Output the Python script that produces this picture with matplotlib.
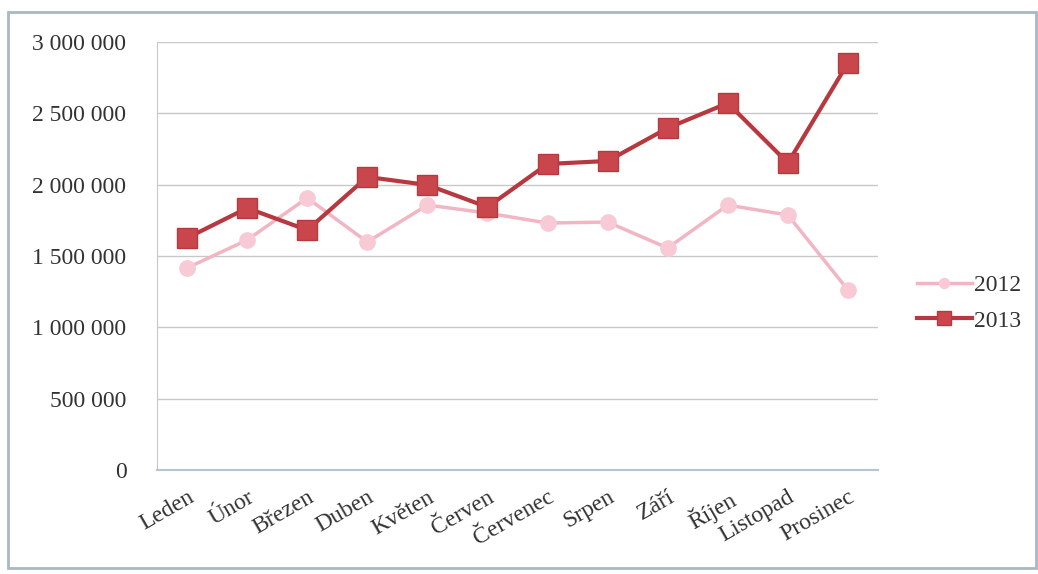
import matplotlib
matplotlib.use("Agg")
import matplotlib.pyplot as plt
from matplotlib.patches import Rectangle
from matplotlib.ticker import FuncFormatter

months = ["Leden", "Únor", "Březen", "Duben", "Květen", "Červen",
          "Červenec", "Srpen", "Září", "Říjen", "Listopad", "Prosinec"]
y2012 = [1416000, 1612000, 1907000, 1598000, 1857000, 1801000,
         1731000, 1738000, 1556000, 1857000, 1787000, 1262000]
y2013 = [1626000, 1836000, 1682000, 2054000, 1998000, 1843000,
         2145000, 2166000, 2397000, 2572000, 2152000, 2853000]
yticks = [0, 500000, 1000000, 1500000, 2000000, 2500000, 3000000]

plt.rcParams['font.family'] = ['Liberation Serif', 'DejaVu Serif']

fig = plt.figure(figsize=(10.38, 5.74), dpi=100)
ax = fig.add_axes([157/1038, 1 - 470/574, (878-157)/1038, (470-42)/574])

x = list(range(len(months)))
ax.plot(x, y2012, color="#F2B5C4", lw=2.5, marker="o", ms=11,
        markerfacecolor="#F7CAD6", markeredgecolor="#F7CAD6", label="2012", zorder=3)
ax.plot(x, y2013, color="#B8383F", lw=3, marker="s", ms=15,
        markerfacecolor="#C9474C", markeredgecolor="#B8383F", label="2013", zorder=4)

ax.set_xlim(-0.5, len(months) - 0.5)
ax.set_ylim(0, 3000000)
ax.set_yticks(yticks)
ax.yaxis.set_major_formatter(FuncFormatter(lambda v, p: f"{int(v):,}".replace(",", " ")))
ax.set_xticks(x)
ax.set_xticklabels(months, rotation=30, ha="right", rotation_mode="anchor")
ax.tick_params(axis="x", length=0, pad=12, labelsize=17, colors="#333333")
ax.tick_params(axis="y", length=0, pad=22, labelsize=17, colors="#333333")
ax.grid(axis="y", color="#C8C8C8", lw=1)
ax.set_axisbelow(True)
for s in ["top", "right"]:
    ax.spines[s].set_visible(False)
ax.spines["left"].set_color("#C8C8C8")
ax.spines["bottom"].set_color("#B8C4D4")
ax.spines["bottom"].set_linewidth(1.5)

leg = fig.legend(loc="center left", bbox_to_anchor=(896/1038, 1 - 303/574),
                 frameon=False, fontsize=17, handlelength=2.3, labelspacing=0.6,
                 handletextpad=0.1, markerscale=0.65)
for t in leg.get_texts():
    t.set_color("#333333")

fig.patches.append(Rectangle((8/1038, 1 - 568/574), (1036-8)/1038, (568-12)/574,
                             transform=fig.transFigure, fill=False,
                             edgecolor="#A8B8C8", lw=2))

fig.savefig("out.png", dpi=100)
